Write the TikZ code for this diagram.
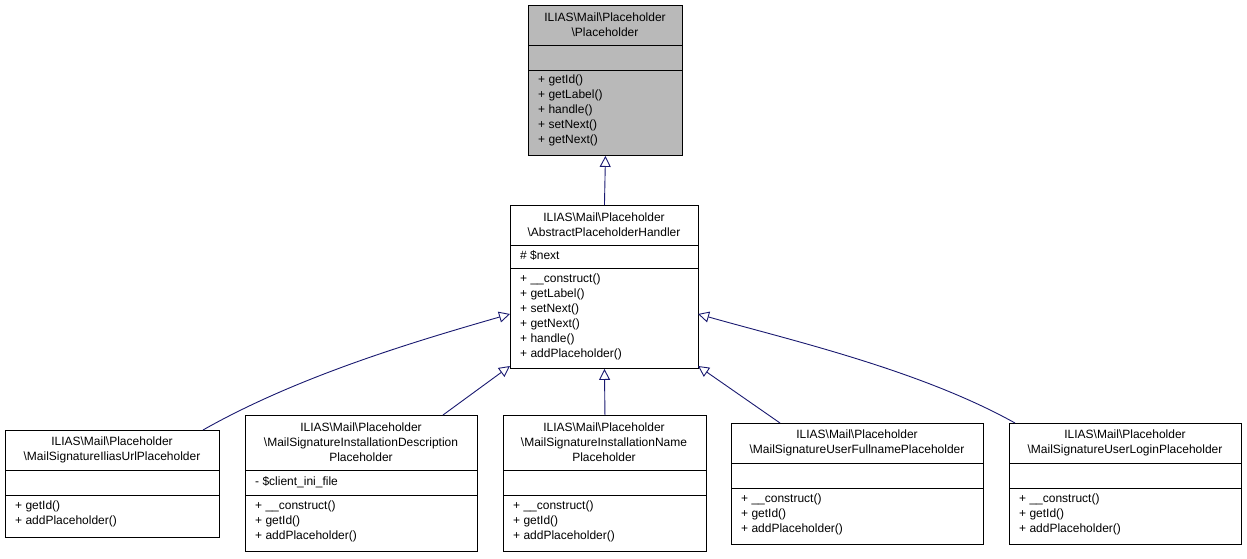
\documentclass[tikz,border=0pt]{standalone}
\usepackage{fontspec}
\setmainfont{Liberation Sans}
\usetikzlibrary{arrows.meta}
\definecolor{edge}{RGB}{25,25,112}
\begin{document}
\begin{tikzpicture}[x=1pt,y=-1pt,
  box/.style={draw,line width=0.9pt,inner sep=0,anchor=north west},
  ttl/.style={align=center,inner sep=0,font=\fontsize{12}{15}\selectfont},
  mem/.style={align=left,anchor=north west,inner sep=0,font=\fontsize{12}{15}\selectfont},
  inh/.style={edge,line width=0.9pt,-{Triangle[open,length=11pt,width=11pt]}}]
\useasboundingbox (0,0) rectangle (1247,559);
% top
\fill[gray!55] (528,5) rectangle (682,155);
\node[box,minimum width=154pt,minimum height=150pt] (top) at (528,5) {};
\draw[line width=0.9pt] (528,45)--(682,45) (528,70)--(682,70);
\node[ttl] (topt) at (605,25) {ILIAS\textbackslash Mail\textbackslash Placeholder\\\textbackslash Placeholder};
\node[mem] (topm) at (538,75) {+ getId()\\+ getLabel()\\+ handle()\\+ setNext()\\+ getNext()};
% middle
\node[box,minimum width=188pt,minimum height=163pt] (mid) at (510,205) {};
\draw[line width=0.9pt] (510,245)--(698,245) (510,268)--(698,268);
\node[ttl] (midt) at (604,225) {ILIAS\textbackslash Mail\textbackslash Placeholder\\\textbackslash AbstractPlaceholderHandler};
\node[mem] (mida) at (520,250) {\# \$next};
\node[mem] (midm) at (520,274) {+ \_\_construct()\\+ getLabel()\\+ setNext()\\+ getNext()\\+ handle()\\+ addPlaceholder()};
% b1
\node[box,minimum width=214pt,minimum height=107pt] (b1) at (5,430) {};
\draw[line width=0.9pt] (5,470)--(219,470) (5,495)--(219,495);
\node[ttl] (b1t) at (112,450) {ILIAS\textbackslash Mail\textbackslash Placeholder\\\textbackslash MailSignatureIliasUrlPlaceholder};
\node[mem] (b1m) at (15,501) {+ getId()\\+ addPlaceholder()};
% b2
\node[box,minimum width=232pt,minimum height=136pt] (b2) at (245,415) {};
\draw[line width=0.9pt] (245,470)--(477,470) (245,495)--(477,495);
\node[ttl] (b2t) at (361,442) {ILIAS\textbackslash Mail\textbackslash Placeholder\\\textbackslash MailSignatureInstallationDescription\\Placeholder};
\node[mem] (b2a) at (255,476) {- \$client\_ini\_file};
\node[mem] (b2m) at (255,501) {+ \_\_construct()\\+ getId()\\+ addPlaceholder()};
% b3
\node[box,minimum width=203pt,minimum height=136pt] (b3) at (503,415) {};
\draw[line width=0.9pt] (503,470)--(706,470) (503,495)--(706,495);
\node[ttl] (b3t) at (604,442) {ILIAS\textbackslash Mail\textbackslash Placeholder\\\textbackslash MailSignatureInstallationName\\Placeholder};
\node[mem] (b3m) at (513,501) {+ \_\_construct()\\+ getId()\\+ addPlaceholder()};
% b4
\node[box,minimum width=252pt,minimum height=121pt] (b4) at (731,423) {};
\draw[line width=0.9pt] (731,463)--(983,463) (731,488)--(983,488);
\node[ttl] (b4t) at (857,443) {ILIAS\textbackslash Mail\textbackslash Placeholder\\\textbackslash MailSignatureUserFullnamePlaceholder};
\node[mem] (b4m) at (741,494) {+ \_\_construct()\\+ getId()\\+ addPlaceholder()};
% b5
\node[box,minimum width=232pt,minimum height=121pt] (b5) at (1009,423) {};
\draw[line width=0.9pt] (1009,463)--(1241,463) (1009,488)--(1241,488);
\node[ttl] (b5t) at (1125,443) {ILIAS\textbackslash Mail\textbackslash Placeholder\\\textbackslash MailSignatureUserLoginPlaceholder};
\node[mem] (b5m) at (1019,494) {+ \_\_construct()\\+ getId()\\+ addPlaceholder()};
% edges
\draw[inh] (mid.north) -- (top.south);
\draw[inh] (203,430) .. controls (300,375) and (420,340) .. (510,314);
\draw[inh] (443,415) -- (510,366);
\draw[inh] (b3.north) -- (mid.south);
\draw[inh] (780,423) -- (698,366);
\draw[inh] (1015,423) .. controls (920,370) and (790,340) .. (698,314);
\end{tikzpicture}
\end{document}
